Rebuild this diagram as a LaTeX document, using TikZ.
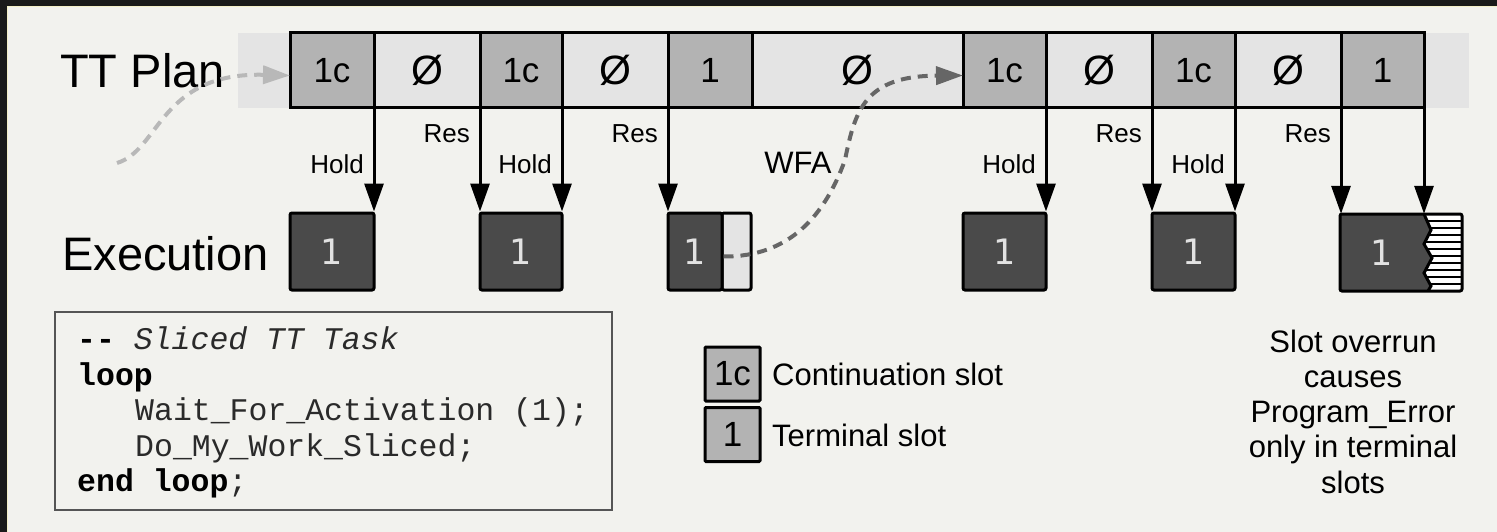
\documentclass[tikz,border=0pt]{standalone}
\usepackage{fontspec}
\setmainfont{Liberation Sans}
\setmonofont{Liberation Mono}
\newfontfamily\dejavu{DejaVu Sans}
\usetikzlibrary{arrows.meta}
\definecolor{bg}{HTML}{F2F2EE}
\definecolor{frame}{HTML}{1A1A1A}
\definecolor{frameedge}{HTML}{F4F0C8}
\definecolor{slotdark}{HTML}{B3B3B3}
\definecolor{slotlight}{HTML}{E4E4E4}
\definecolor{runfill}{HTML}{4A4A4A}
\definecolor{runtext}{HTML}{E2E2E2}
\definecolor{wfagray}{HTML}{666666}
\definecolor{feedgray}{HTML}{B8B8B8}
\definecolor{codeframe}{HTML}{555555}
\definecolor{codeink}{HTML}{2A2A2A}
\newcommand\fsz[1]{\fontsize{#1}{#1}\selectfont}
\newcommand\emptyslot{{\fsz{41}Ø}}

\begin{document}
\begin{tikzpicture}[x=1pt,y=-1pt,
  slotbox/.style={draw=black, line width=3pt, inner sep=0pt, outer sep=0pt,
    minimum height=75pt, font={\fsz{35}}},
  dk/.style={slotbox, fill=slotdark},
  lt/.style={slotbox, fill=slotlight},
  runbox/.style={draw=black, line width=3pt, fill=runfill, rounded corners=2pt,
    inner sep=0pt, minimum height=77pt, text=runtext, font={\dejavu\fsz{35}}},
  gapbox/.style={runbox, fill=slotlight},
  dispatch/.style={line width=3pt, -{Triangle[length=28pt,width=19pt]}},
  flow/.style={line width=4pt, dash pattern=on 10pt off 7pt,
    -{Triangle[length=27pt,width=18pt]}},
  lbl/.style={font={\fsz{26}}, inner sep=0pt, anchor=base east},
  big/.style={font={\fsz{47}}, inner sep=0pt, anchor=base west},
  code/.style={font={\ttfamily\fsz{31.5}}, text=codeink, inner sep=0pt, anchor=base west},
  legbox/.style={draw=black, line width=3pt, fill=slotdark, rounded corners=1pt,
    inner sep=0pt, minimum width=55pt, minimum height=54pt, font={\fsz{35}}},
  legtext/.style={font={\fsz{31}}, inner sep=0pt, anchor=base west}
]
\useasboundingbox (0,0) rectangle (1497,532);

% canvas and frame
\fill[bg] (0,0) rectangle (1497,532);
\fill[frame] (0,0) rectangle (1497,6);
\fill[frame] (0,0) rectangle (7,532);
\draw[frameedge, line width=1pt] (7.5,532) -- (7.5,6.5) -- (1497,6.5);

% plan strip
\fill[slotlight] (238,33) rectangle (1469,108);

% time-triggered plan slots
\foreach \n/\a/\b/\t/\s in {1/290/374/1c/dk, 2/374/480/\emptyslot/lt, 3/480/562/1c/dk,
    4/562/668/\emptyslot/lt, 5/668/752/1/dk, 6/752/963/\emptyslot/lt, 7/963/1046/1c/dk,
    8/1046/1152/\emptyslot/lt, 9/1152/1235/1c/dk, 10/1235/1341/\emptyslot/lt,
    11/1341/1424/1/dk}{
  \pgfmathsetmacro\w{\b-\a}
  \pgfmathsetmacro\cx{(\a+\b)/2}
  \node[\s, minimum width=\w pt] (s\n) at (\cx,70.5) {\t};
}

% row labels
\node[big] (plan) at (60,88) {TT Plan};
\node[big] (exec) at (62,270) {Execution};

% execution boxes
\node[runbox, minimum width=84pt] (e1) at (332,251.5) {1};
\node[runbox, minimum width=82pt] (e2) at (521,251.5) {1};
\node[gapbox, minimum width=29pt] (e3b) at (736.5,251.5) {};
\node[runbox, minimum width=54pt] (e3) at (695,251.5) {1};
\node[runbox, minimum width=83pt] (e4) at (1004.5,251.5) {1};
\node[runbox, minimum width=83pt] (e5) at (1193.5,251.5) {1};

% overrun box with torn right edge
\node[minimum width=122pt, minimum height=77pt, inner sep=0pt] (e6) at (1401,252.5) {};
\fill[white] (1340,214) rectangle (1462,291);
\foreach \yy in {221,228,...,288}
  \draw[line width=1.3pt] (1424,\yy) -- (1462,\yy);
\fill[runfill] (1340,214) -- (1424,214) -- (1431,230) -- (1424,244) -- (1432,258)
  -- (1424,273) -- (1431,286) -- (1428,291) -- (1340,291) -- cycle;
\draw[line width=3pt, line join=miter] (1424,214) -- (1431,230) -- (1424,244) -- (1432,258)
  -- (1424,273) -- (1431,286) -- (1428,291);
\draw[line width=3pt, rounded corners=2pt] (1340,214) rectangle (1462,291);
\node[font={\dejavu\fsz{35}}, text=runtext, inner sep=0pt] (e6t) at (1382,252.5) {1};

% dispatch arrows
\foreach \s/\e in {1/e1, 2/e2, 3/e2, 4/e3, 7/e4, 8/e5, 9/e5, 10/e6, 11/e6}
  \draw[dispatch] (s\s.south east) -- (s\s.south east |- \e.north);

% arrow labels
\node[lbl] at (364,173) {Hold};
\node[lbl] at (552,173) {Hold};
\node[lbl] at (1036,173) {Hold};
\node[lbl] at (1225,173) {Hold};
\node[lbl] at (470,143) {Res};
\node[lbl] at (658,143) {Res};
\node[lbl] at (1142,143) {Res};
\node[lbl] at (1331,143) {Res};
\node[font={\fsz{31}}, inner sep=0pt, anchor=base] (wfa) at (798,173) {WFA};

% release and continuation flows
\coordinate (feed) at (117,163);
\draw[flow, feedgray] (feed) .. controls (160,150) and (160,72) .. ([yshift=-5pt]s1.west);
\draw[flow, wfagray] ([yshift=-5pt]e3.east) .. controls (790,257) and (825,215) .. (845,160)
  .. controls (855,110) and (865,76) .. ([yshift=-5pt]s7.west);

% code listing
\node[draw=codeframe, line width=1.2pt, minimum width=557pt, minimum height=198pt,
  inner sep=0pt] (codebox) at (333.5,411) {};
\node[code] (c1) at (77,349) {\textbf{\color{black}-{}-} \textit{Sliced TT Task}};
\node[code] (c2) at (77,385) {\textbf{\color{black}loop}};
\node[code] (c3) at (135,420) {Wait\_For\_Activation (1);};
\node[code] (c4) at (135,456) {Do\_My\_Work\_Sliced;};
\node[code] (c5) at (77,491) {\textbf{\color{black}end loop};};

% legend
\node[legbox] (k1) at (732.5,374) {1c};
\node[legbox] (k2) at (732.5,434.5) {1};
\node[legtext] (k1t) at (772,385) {Continuation slot};
\node[legtext] (k2t) at (772,446) {Terminal slot};

% overrun note
\node[align=center, font={\fontsize{31}{35.25}\selectfont}, inner sep=0pt] (note)
  at (1353,411.5) {Slot overrun\\causes\\Program\_Error\\only in terminal\\slots};
\end{tikzpicture}
\end{document}
